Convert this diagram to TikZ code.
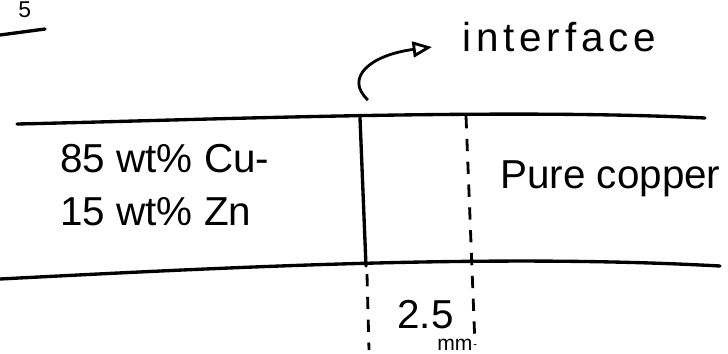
\documentclass[tikz,border=0pt]{standalone}
\usepackage{fontspec}
\setmainfont{Liberation Sans}
\usetikzlibrary{arrows.meta}

\begin{document}
\begin{tikzpicture}[
  x=0.02cm, y=-0.02cm,
  bar/.style={line width=1.9pt, black, line cap=round},
  guide/.style={line width=1.6pt, black, dash pattern=on 7pt off 6pt},
  label/.style={font=\fontsize{23}{27}\selectfont, inner sep=0pt, anchor=base west},
  small/.style={font=\fontsize{12}{14}\selectfont, inner sep=0pt, anchor=base west},
  pointer/.style={line width=1.6pt, black, -{Triangle[open, length=11pt, width=9pt]}}
]
  \useasboundingbox (0,0) rectangle (728,353);

  % ── Problem number (top left) ───────────────────────────────────────────
  \node[small, font=\fontsize{13}{15}\selectfont] (qnum) at (18,17) {5};
  \draw[bar] (0,35) -- (45,29);

  % ── The two bars and the interface ──────────────────────────────────────
  \draw[bar] (17,124) .. controls (200,120) and (500,108) .. (705,118);
  \draw[bar] (0,279) .. controls (250,266) and (500,254) .. (720,266);
  \draw[bar] (360,118) -- (366,266);

  % ── Diffusion distance guides ───────────────────────────────────────────
  \draw[guide] (466,116) -- (475,345);
  \draw[guide] (367,274) -- (369,350);

  % ── Labels ──────────────────────────────────────────────────────────────
  \node[label] (brass1) at (60,172) {85 wt\% Cu-};
  \node[label] (brass2) at (60,225) {15 wt\% Zn};
  \node[label] (copper) at (500,188) {Pure copper};
  \node[label] (dist)   at (397,328) {2.5};
  \node[small] (unit)   at (437,350) {mm};
  \node[label, font=\fontsize{23}{27}\selectfont\addfontfeature{LetterSpace=12}]
        (iface) at (462,51) {interface};

  % ── Pointer to the interface ────────────────────────────────────────────
  \coordinate (foot) at (368,100);
  \coordinate (tip)  at (432,47);
  \draw[pointer] (foot) .. controls (344,78) and (370,55) .. (tip);
\end{tikzpicture}
\end{document}
